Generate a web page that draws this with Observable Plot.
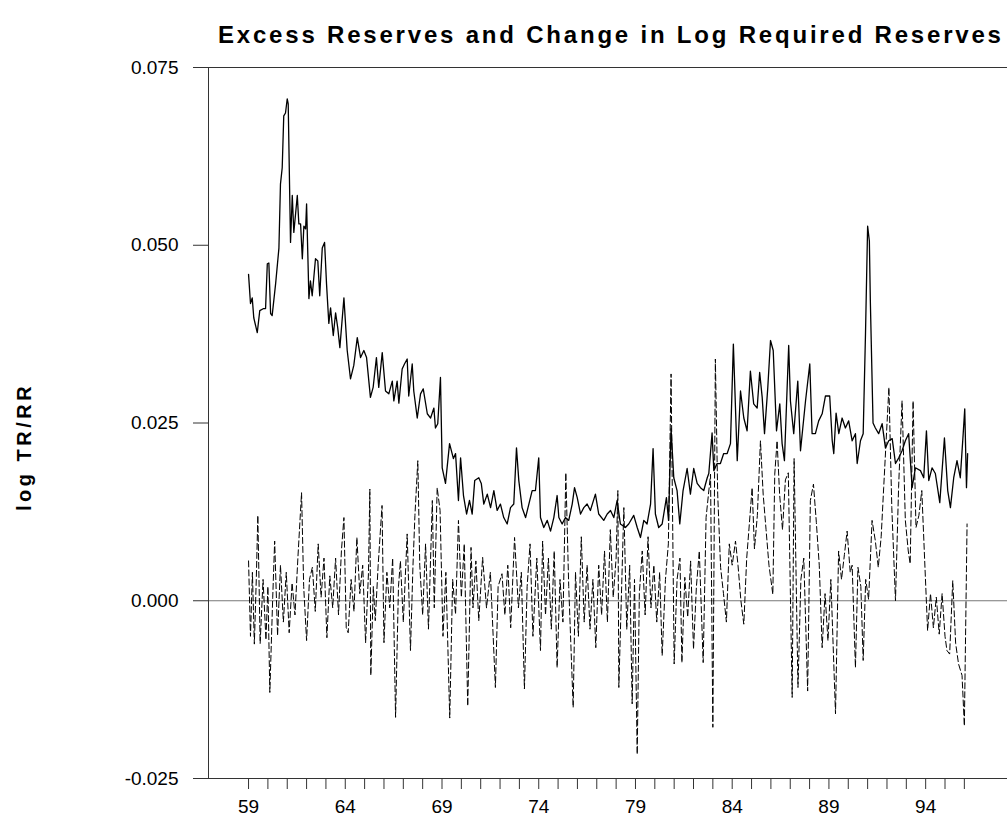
<!DOCTYPE html>
<html><head><meta charset="utf-8">
<script src="https://cdn.jsdelivr.net/npm/d3@7"></script>
<script src="https://cdn.jsdelivr.net/npm/@observablehq/plot@0.6"></script>
<style>
body{margin:0;background:#fff;}
#title{height:55px;position:relative;font-family:"Liberation Sans",Arial,sans-serif;font-weight:bold;font-size:24px;letter-spacing:2.8px;color:#000;}
#title span{position:absolute;left:218px;top:21px;white-space:nowrap;}
</style></head><body>
<div id="title"><span>Excess Reserves and Change in Log Required Reserves</span></div>
<div id="chart"></div>
<script>
// Excess reserves: log(TR/RR), in thousandths, at decimal years
const exYears = [1959.00,1959.10,1959.19,1959.27,1959.45,1959.58,1959.78,1959.88,1959.97,1960.05,1960.14,1960.22,1960.40,1960.57,1960.65,1960.74,1960.82,1960.91,1961.00,1961.05,1961.13,1961.17,1961.26,1961.34,1961.52,1961.60,1961.69,1961.78,1961.86,1961.95,1962.00,1962.12,1962.20,1962.29,1962.46,1962.58,1962.68,1962.81,1962.93,1963.03,1963.15,1963.24,1963.38,1963.50,1963.61,1963.72,1963.93,1964.10,1964.27,1964.44,1964.62,1964.79,1964.96,1965.10,1965.30,1965.44,1965.61,1965.73,1965.91,1966.08,1966.25,1966.43,1966.51,1966.68,1966.77,1966.94,1967.06,1967.20,1967.28,1967.46,1967.54,1967.72,1967.89,1968.03,1968.24,1968.41,1968.58,1968.66,1968.78,1968.92,1969.01,1969.18,1969.39,1969.59,1969.70,1969.85,1969.96,1970.11,1970.27,1970.42,1970.56,1970.69,1970.90,1971.03,1971.16,1971.34,1971.51,1971.68,1971.85,1972.02,1972.19,1972.37,1972.54,1972.71,1972.85,1972.97,1973.14,1973.32,1973.49,1973.66,1973.83,1974.00,1974.09,1974.26,1974.44,1974.61,1974.78,1974.95,1975.04,1975.21,1975.38,1975.55,1975.73,1975.85,1975.99,1976.16,1976.33,1976.50,1976.67,1976.93,1977.10,1977.36,1977.54,1977.71,1977.88,1978.05,1978.22,1978.48,1978.65,1978.91,1979.09,1979.26,1979.43,1979.60,1979.78,1979.91,1980.03,1980.20,1980.38,1980.60,1980.71,1980.84,1980.98,1981.15,1981.29,1981.46,1981.67,1981.84,1982.01,1982.19,1982.36,1982.53,1982.71,1982.79,1982.96,1983.05,1983.22,1983.39,1983.56,1983.74,1983.91,1984.06,1984.26,1984.43,1984.60,1984.77,1984.94,1985.11,1985.29,1985.42,1985.55,1985.67,1985.84,1985.98,1986.12,1986.29,1986.46,1986.58,1986.70,1986.92,1987.01,1987.18,1987.39,1987.53,1987.79,1988.01,1988.13,1988.30,1988.47,1988.65,1988.82,1989.04,1989.17,1989.25,1989.37,1989.51,1989.68,1989.85,1990.02,1990.20,1990.37,1990.46,1990.63,1990.77,1990.89,1991.00,1991.09,1991.14,1991.28,1991.40,1991.57,1991.75,1991.92,1992.09,1992.27,1992.44,1992.61,1992.78,1992.95,1993.12,1993.30,1993.47,1993.73,1993.90,1994.04,1994.16,1994.33,1994.50,1994.73,1994.97,1995.14,1995.28,1995.45,1995.62,1995.79,1995.94,1996.02,1996.11,1996.17];
const exValues = [45.9,41.8,42.6,39.8,37.7,40.8,41.1,41.1,47.4,47.5,40.4,40.1,44.6,49.6,58.6,60.9,68.2,68.6,70.6,69.9,56.7,50.4,57.0,51.8,57.0,53.0,53.0,48.1,52.7,52.3,55.8,42.5,45.0,42.9,48.1,47.8,42.9,49.6,50.4,44.6,39.0,41.2,37.3,40.5,38.4,35.6,42.6,35.2,31.2,33.1,37.0,34.2,35.2,34.2,28.6,30.0,34.2,30.0,34.9,29.5,29.1,30.9,28.1,30.9,27.8,32.6,33.3,34.0,28.8,33.3,29.5,25.7,29.1,29.8,26.3,25.7,27.1,24.3,24.9,31.4,18.7,16.5,22.1,20.0,20.7,14.1,20.1,14.8,12.2,14.1,12.2,16.9,17.3,16.5,13.6,15.0,13.1,15.5,12.7,13.6,11.7,10.8,13.1,13.6,21.5,16.9,13.1,11.7,13.6,15.5,15.5,20.1,11.7,10.3,11.3,9.8,11.7,14.8,11.7,10.8,11.7,11.3,13.6,15.9,14.5,12.2,13.1,13.6,12.7,15.0,12.2,11.3,12.2,12.7,11.7,14.1,10.8,10.3,10.8,12.0,10.3,8.9,11.3,10.8,13.6,21.4,12.2,10.3,10.8,14.5,11.3,24.2,17.3,15.5,10.8,15.5,18.6,15.0,18.6,16.5,15.9,15.5,17.3,17.9,23.6,18.3,19.3,19.3,20.7,20.7,22.1,36.1,19.7,29.5,25.7,23.9,32.3,27.7,27.1,32.1,28.6,23.5,30.0,36.6,35.2,23.9,27.7,22.1,19.7,35.9,28.1,23.5,30.9,21.1,28.1,33.3,23.5,23.5,25.3,26.3,28.8,28.8,22.5,20.7,26.4,23.5,25.7,24.3,25.3,22.5,23.5,19.3,22.5,23.5,37.6,52.7,50.6,42.2,25.0,24.3,23.5,24.9,21.5,22.5,22.8,19.3,20.1,21.1,22.5,23.5,15.9,18.7,18.3,17.3,23.9,16.9,18.7,17.9,13.8,22.9,15.5,13.1,17.3,19.7,17.3,23.5,27.0,15.9,20.7];

// Change in log required reserves, in thousandths, at decimal years
const drYears = [1959.00,1959.10,1959.20,1959.30,1959.40,1959.48,1959.60,1959.75,1959.90,1960.00,1960.10,1960.25,1960.35,1960.50,1960.65,1960.80,1960.95,1961.10,1961.25,1961.40,1961.55,1961.74,1961.85,1962.00,1962.15,1962.30,1962.45,1962.60,1962.75,1962.90,1963.05,1963.20,1963.35,1963.50,1963.65,1963.80,1963.93,1964.05,1964.15,1964.30,1964.45,1964.60,1964.75,1964.90,1965.05,1965.20,1965.27,1965.32,1965.45,1965.55,1965.70,1965.90,1966.00,1966.15,1966.30,1966.45,1966.60,1966.75,1966.85,1967.00,1967.20,1967.37,1967.50,1967.60,1967.75,1967.85,1968.00,1968.15,1968.30,1968.50,1968.60,1968.75,1968.90,1969.05,1969.20,1969.40,1969.55,1969.70,1969.85,1970.00,1970.15,1970.33,1970.50,1970.60,1970.75,1970.90,1971.10,1971.30,1971.50,1971.76,1971.90,1972.10,1972.25,1972.40,1972.55,1972.75,1972.95,1973.10,1973.26,1973.40,1973.55,1973.70,1973.90,1974.09,1974.20,1974.35,1974.50,1974.65,1974.80,1974.95,1975.10,1975.25,1975.40,1975.55,1975.78,1975.90,1976.05,1976.20,1976.35,1976.50,1976.65,1976.80,1976.95,1977.10,1977.25,1977.40,1977.55,1977.70,1977.85,1978.00,1978.09,1978.14,1978.40,1978.55,1978.70,1978.83,1978.95,1979.09,1979.20,1979.35,1979.50,1979.65,1979.80,1979.95,1980.10,1980.25,1980.38,1980.55,1980.70,1980.84,1981.00,1981.15,1981.30,1981.40,1981.55,1981.70,1981.85,1982.00,1982.15,1982.30,1982.50,1982.65,1982.88,1983.00,1983.13,1983.25,1983.40,1983.55,1983.70,1983.85,1984.00,1984.17,1984.30,1984.45,1984.60,1984.75,1985.03,1985.15,1985.30,1985.46,1985.60,1985.75,1985.90,1986.10,1986.20,1986.32,1986.45,1986.60,1986.75,1986.90,1987.10,1987.20,1987.40,1987.55,1987.70,1987.90,1988.04,1988.20,1988.35,1988.50,1988.65,1988.80,1988.95,1989.10,1989.34,1989.50,1989.65,1989.80,1989.94,1990.10,1990.20,1990.37,1990.50,1990.65,1990.77,1990.90,1991.05,1991.23,1991.40,1991.55,1991.70,1991.83,1992.10,1992.25,1992.44,1992.60,1992.78,1992.95,1993.10,1993.20,1993.35,1993.50,1993.65,1993.80,1993.95,1994.10,1994.25,1994.40,1994.55,1994.70,1994.85,1995.00,1995.10,1995.24,1995.40,1995.55,1995.70,1995.88,1996.00,1996.14];
const drValues = [5.6,-5.0,4.0,-6.1,3.0,12.0,-6.0,3.0,-5.5,2.0,-12.9,0.5,8.4,-4.9,5.0,-3.0,4.0,-4.5,2.5,-2.0,6.0,15.2,2.0,-5.6,3.0,4.7,-1.5,8.0,0.5,6.0,-5.2,3.5,-1.0,6.0,-2.0,7.0,11.7,-3.8,-4.5,3.0,-1.5,8.9,1.0,5.0,-5.9,4.0,15.7,-10.5,2.0,-2.8,5.0,13.4,-5.9,4.0,-1.0,6.0,-16.4,2.0,5.6,-3.0,9.4,-7.0,5.0,12.0,19.7,5.0,-2.0,8.0,-4.0,14.1,-1.0,15.9,12.7,-5.0,4.0,-16.5,3.0,-1.9,11.3,0.5,8.0,-14.8,7.5,-1.0,5.6,-2.8,6.1,-1.0,4.0,-12.2,2.0,3.8,-2.0,5.0,-3.8,8.9,-1.0,4.0,-12.4,2.0,8.0,-5.0,6.0,-7.0,8.4,-2.0,6.0,-4.0,7.0,-9.4,3.0,-3.0,18.0,2.0,-15.0,4.0,-5.0,9.0,-3.0,5.0,-4.0,3.0,-6.6,5.0,-2.0,7.0,-3.0,10.0,0.5,6.0,15.5,-12.2,13.1,-4.0,5.0,-14.5,3.0,-21.6,1.0,7.0,-2.0,9.0,-1.0,5.0,-3.0,4.0,-7.7,3.0,8.0,31.9,-8.9,3.0,6.0,-8.7,3.3,-2.3,5.6,-6.8,2.0,7.0,-8.7,11.7,17.8,-17.8,34.0,15.0,4.7,1.0,-3.0,8.0,5.0,8.4,5.0,0.0,-3.3,6.0,15.9,7.3,12.0,22.5,15.0,10.0,5.0,0.9,17.8,22.5,15.0,10.0,17.0,18.0,-13.6,20.0,-12.2,3.0,6.0,-12.7,14.1,16.4,11.0,5.0,-6.6,1.0,-5.6,3.0,-15.9,7.0,3.0,6.5,9.8,4.0,5.0,-9.4,4.7,2.0,-8.4,3.0,0.2,11.3,8.4,4.7,9.0,15.9,30.0,13.1,0.0,15.9,28.1,11.3,7.0,5.2,28.1,10.3,12.0,15.5,5.6,-4.2,1.0,-3.8,0.5,-4.7,1.0,-5.0,-7.0,-7.5,2.8,-6.0,-8.9,-10.5,-17.6,10.8];

// Axis ticks and labels
const yTicks = [-0.025, 0, 0.025, 0.05, 0.075];
const yTickLabels = ["-0.025", "0.000", "0.025", "0.050", "0.075"];
const xTicks = d3.range(1959, 1997);
const xLabelYears = [1959, 1964, 1969, 1974, 1979, 1984, 1989, 1994];
const xLabels = ["59", "64", "69", "74", "79", "84", "89", "94"];
const yLabel = "log TR/RR";

const excess = exYears.map((t, i) => ({t, v: exValues[i] / 1000}));
const change = drYears.map((t, i) => ({t, v: drValues[i] / 1000}));

const chart = Plot.plot({
  width: 1007,
  height: 772,
  marginTop: 12,
  marginBottom: 49,
  marginLeft: 208,
  marginRight: 0,
  style: {fontFamily: "'Liberation Sans', Arial, sans-serif", fontSize: "19px", color: "#000", background: "#fff"},
  x: {domain: [1956.93, 1998.23]},
  y: {domain: [-0.025, 0.075]},
  marks: [
    Plot.ruleY([0.075], {stroke: "#333", strokeWidth: 1}),
    Plot.ruleY([-0.025], {stroke: "#333", strokeWidth: 1}),
    Plot.ruleY([0], {stroke: "#777", strokeWidth: 1}),
    Plot.ruleX([1956.93], {stroke: "#333", strokeWidth: 1}),
    Plot.axisY(yTicks, {tickSize: 15, tickPadding: 15, stroke: "#333", label: null,
      tickFormat: d => yTickLabels[yTicks.indexOf(d)]}),
    Plot.axisX(xTicks, {tickSize: 11, tickPadding: 10, stroke: "#333", label: null,
      tickFormat: d => { const k = xLabelYears.indexOf(d); return k >= 0 ? xLabels[k] : ""; }}),
    Plot.line(change, {x: "t", y: "v", stroke: "#000", strokeWidth: 1, strokeDasharray: "6,3"}),
    Plot.line(excess, {x: "t", y: "v", stroke: "#000", strokeWidth: 1.3}),
    Plot.text([yLabel], {frameAnchor: "left", rotate: -90, dx: -184, dy: 24, fontWeight: "bold", fontSize: 20, textAnchor: "middle"})
  ]
});
d3.select(chart).selectAll("text").filter(function(){ return this.textContent === yLabel; })
  .style("letter-spacing", "3.5px");
document.getElementById("chart").appendChild(chart);
</script>
</body></html>
